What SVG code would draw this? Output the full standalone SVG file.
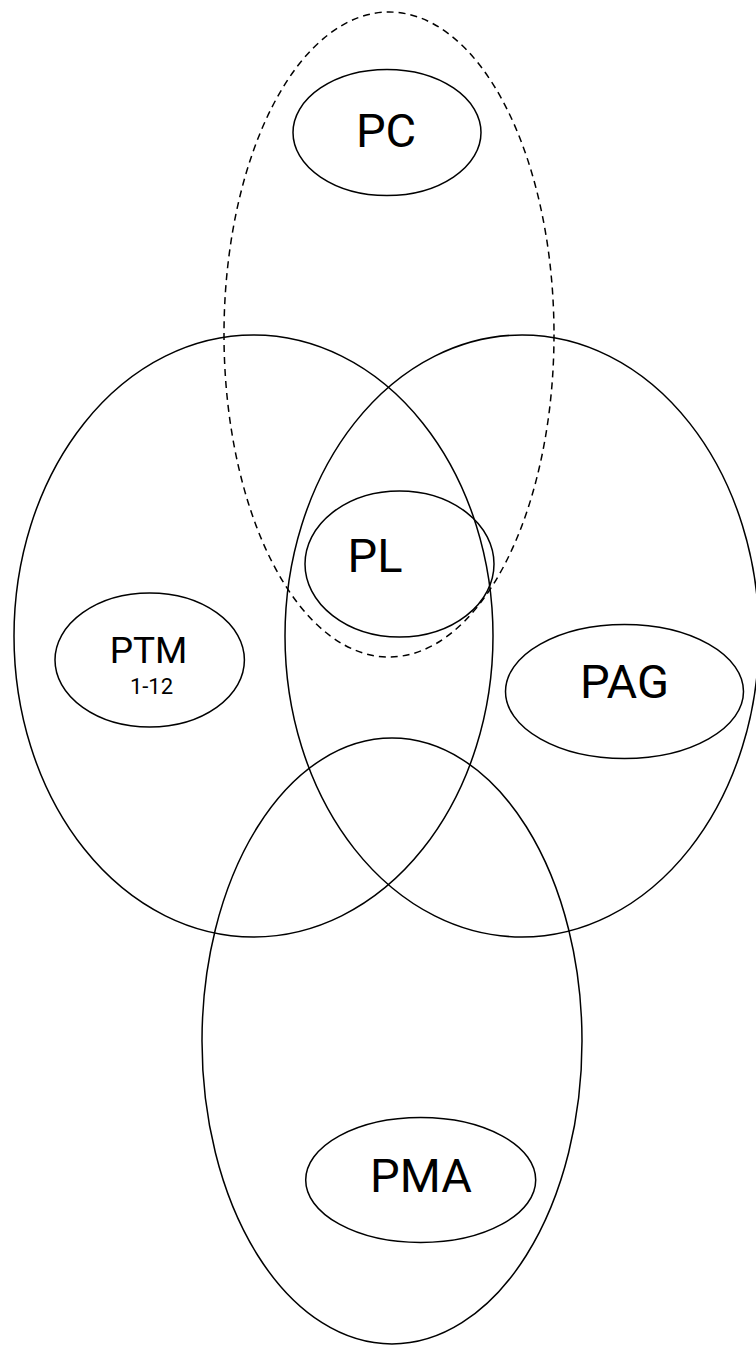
<svg xmlns="http://www.w3.org/2000/svg" width="756" height="1346" viewBox="0 0 756 1346">
<style>
  .ring { fill: none; stroke: #000; stroke-width: 1.5; }
  .dash { fill: none; stroke: #000; stroke-width: 1.5; stroke-dasharray: 7 5; }
  .lbl { font-family: Roboto, "Liberation Sans", sans-serif; font-size: 47px; fill: #000; text-anchor: middle; }
  .mid { font-size: 37px; }
  .small { font-size: 22px; }
</style>
<rect width="756" height="1346" fill="#fff"/>
<g id="set-left"><ellipse class="ring" cx="253.5" cy="636" rx="239.5" ry="301"/></g>
<g id="set-right"><ellipse class="ring" cx="522" cy="636" rx="237" ry="301"/></g>
<g id="set-bottom"><ellipse class="ring" cx="392" cy="1041" rx="190" ry="303"/></g>
<g id="set-top"><ellipse class="dash" cx="389" cy="334.5" rx="165" ry="322.5"/></g>
<g id="PC">
  <ellipse class="ring" cx="387" cy="132.5" rx="94" ry="63"/>
  <text class="lbl" x="386" y="147">PC</text>
</g>
<g id="PL">
  <ellipse class="ring" cx="399.5" cy="564" rx="94.5" ry="73"/>
  <text class="lbl" x="375" y="572">PL</text>
</g>
<g id="PTM">
  <ellipse class="ring" cx="149.7" cy="660" rx="94.7" ry="67"/>
  <text class="lbl mid" x="148.5" y="663">PTM</text>
  <text class="lbl small" x="151.5" y="694">1-12</text>
</g>
<g id="PAG">
  <ellipse class="ring" cx="624.5" cy="691.5" rx="119" ry="67"/>
  <text class="lbl" x="624.5" y="698">PAG</text>
</g>
<g id="PMA">
  <ellipse class="ring" cx="420.7" cy="1180" rx="115" ry="62.5"/>
  <text class="lbl" x="421" y="1192">PMA</text>
</g>
</svg>
